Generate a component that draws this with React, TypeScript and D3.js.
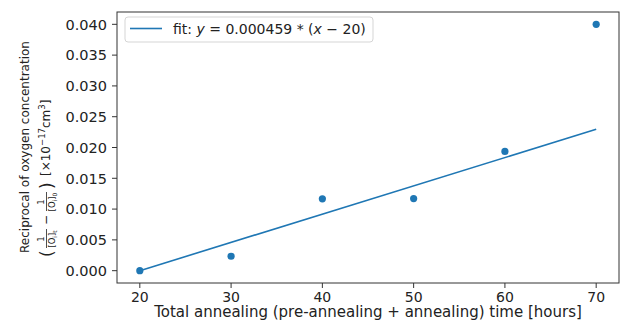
import { useMemo } from "react";
import * as d3 from "d3";

const hours = [20, 30, 40, 50, 60, 70];
const reciprocal = [0.0, 0.00234, 0.01166, 0.0117, 0.01936, 0.04];
const fitSlope = 0.000459;
const fitOffset = 20;
const yTickValues = [0, 0.005, 0.01, 0.015, 0.02, 0.025, 0.03, 0.035, 0.04];
const xTickValues = [20, 30, 40, 50, 60, 70];

const BLUE = "#1f77b4";
const FONT = "DejaVu Sans, sans-serif";

export default function App() {
  const width = 621;
  const height = 322;
  const margin = { top: 12, right: 2, bottom: 39, left: 117 };
  const iw = width - margin.left - margin.right;
  const ih = height - margin.top - margin.bottom;

  const { x, y, fitPath } = useMemo(() => {
    const x = d3.scaleLinear().domain([17.5, 72.5]).range([0, iw]);
    const y = d3.scaleLinear().domain([-0.002, 0.042]).range([ih, 0]);
    const fitLine = d3
      .line<number>()
      .x((d) => x(d))
      .y((d) => y(fitSlope * (d - fitOffset)));
    const fitPath = fitLine([hours[0], hours[hours.length - 1]]) ?? "";
    return { x, y, fitPath };
  }, [iw, ih]);

  const fmt = d3.format(".3f");

  return (
    <svg
      width={width}
      height={height}
      style={{ position: "absolute", left: 0, top: 0, background: "#fff" }}
      fontFamily={FONT}
    >
      <g transform={`translate(${margin.left},${margin.top})`}>
        {/* y ticks */}
        {yTickValues.map((t) => (
          <g key={t} transform={`translate(0,${y(t)})`}>
            <line x1={-5} x2={0} stroke="#333" strokeWidth={1} />
            <text x={-10} dy="0.36em" textAnchor="end" fontSize={14.5} fill="#222">
              {fmt(t)}
            </text>
          </g>
        ))}
        {/* x ticks */}
        {xTickValues.map((t) => (
          <g key={t} transform={`translate(${x(t)},${ih})`}>
            <line y1={0} y2={5} stroke="#333" strokeWidth={1} />
            <text y={18.5} textAnchor="middle" fontSize={14} fill="#222">
              {t}
            </text>
          </g>
        ))}

        {/* fit + data */}
        <path d={fitPath} fill="none" stroke={BLUE} strokeWidth={1.6} />
        {hours.map((h, i) => (
          <circle key={h} cx={x(h)} cy={y(reciprocal[i])} r={3.6} fill={BLUE} />
        ))}

        {/* frame */}
        <rect x={0} y={0} width={iw} height={ih} fill="none" stroke="#333" strokeWidth={1} />

        {/* legend */}
        <g transform="translate(8,5)">
          <rect x={0} y={0} width={248} height={25} rx={3} fill="#fff" fillOpacity={0.8} stroke="#d5d5d5" />
          <line x1={5} x2={37} y1={11.5} y2={11.5} stroke={BLUE} strokeWidth={1.6} />
          <text x={48} y={17} fontSize={14} fill="#222">
            fit: <tspan fontStyle="italic">y</tspan> = 0.000459 * (<tspan fontStyle="italic">x</tspan> − 20)
          </text>
        </g>
      </g>

      {/* x label */}
      <text x={margin.left + iw / 2} y={317} textAnchor="middle" fontSize={15} fill="#222">
        Total annealing (pre-annealing + annealing) time [hours]
      </text>

      {/* y label, two lines */}
      <g transform="translate(0,147) rotate(-90)" fill="#222">
        <text x={0} y={29} textAnchor="middle" fontSize={12}>
          Reciprocal of oxygen concentration
        </text>
        <text x={-110} y={53} fontSize={17}>(</text>
        <text x={-92} y={44} fontSize={8.5} textAnchor="middle">1</text>
        <line x1={-101} x2={-82} y1={46.5} y2={46.5} stroke="#222" strokeWidth={0.8} />
        <text x={-92} y={55} fontSize={8.5} textAnchor="middle">
          [O<tspan fontSize={6} dy={1.5}>i</tspan><tspan dy={-1.5}>]</tspan><tspan fontSize={6} dy={1.5}>t</tspan>
        </text>
        <text x={-78} y={50} fontSize={12}>−</text>
        <text x={-55} y={44} fontSize={8.5} textAnchor="middle">1</text>
        <line x1={-64} x2={-45} y1={46.5} y2={46.5} stroke="#222" strokeWidth={0.8} />
        <text x={-55} y={55} fontSize={8.5} textAnchor="middle">
          [O<tspan fontSize={6} dy={1.5}>i</tspan><tspan dy={-1.5}>]</tspan><tspan fontSize={6} dy={1.5}>0</tspan>
        </text>
        <text x={-42} y={53} fontSize={17}>)</text>
        <text x={-29} y={50} fontSize={12}>
          [×10<tspan fontSize={8.5} dy={-5}>−17</tspan>
          <tspan dy={5}>cm</tspan>
          <tspan fontSize={8.5} dy={-5}>3</tspan>
          <tspan dy={5}>]</tspan>
        </text>
      </g>
    </svg>
  );
}
